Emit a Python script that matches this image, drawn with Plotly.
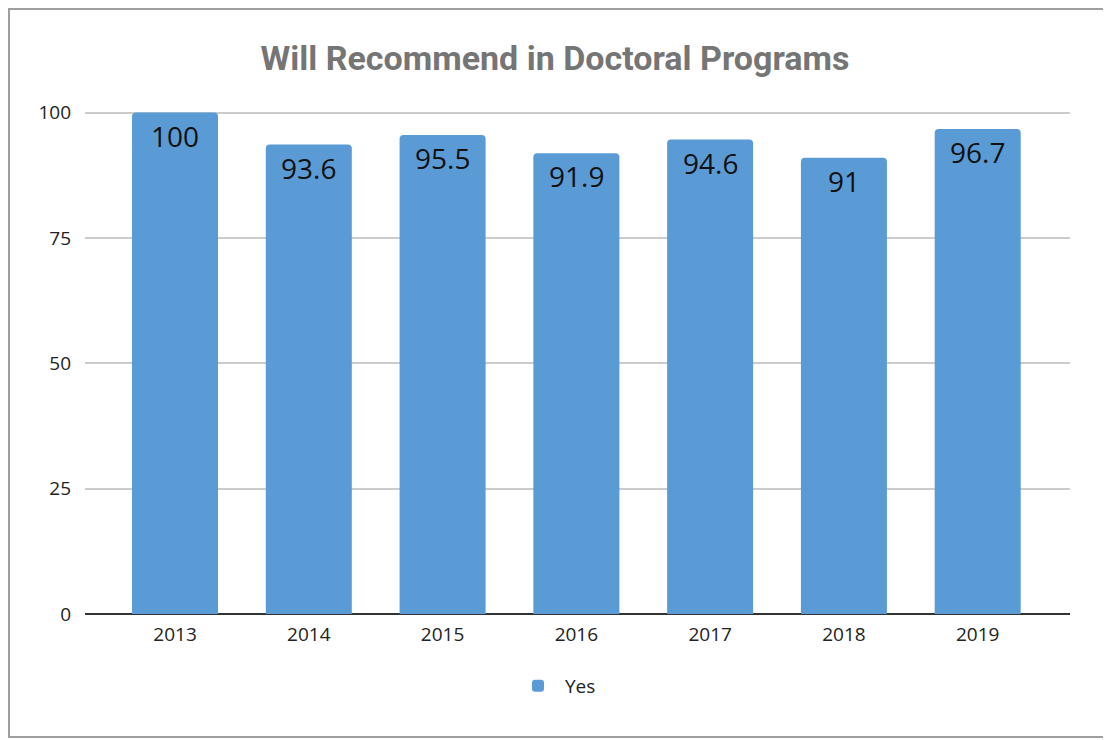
import plotly.graph_objects as go

years = ["2013", "2014", "2015", "2016", "2017", "2018", "2019"]
yes_values = [100, 93.6, 95.5, 91.9, 94.6, 91, 96.7]
value_labels = ["100", "93.6", "95.5", "91.9", "94.6", "91", "96.7"]
y_ticks = [0, 25, 50, 75, 100]

BAR_COLOR = "#5b9bd5"
O = 8  # page offset of the figure (body margin)
W, H = 1111 - O, 740 - O
# plot area in page pixels: x 85..1070, y 111..614
L, T = 85 - O, 111 - O
R = W - (1070 - O)
B = H - (614 - O)
pw, ph = W - L - R, H - T - B

fig = go.Figure()
fig.add_trace(go.Bar(
    x=list(range(len(years))), y=yes_values, name="Yes",
    marker=dict(color=BAR_COLOR, cornerradius=4, line=dict(width=0)),
    width=0.643, hoverinfo="x+y",
))

for i, (v, lab) in enumerate(zip(yes_values, value_labels)):
    fig.add_annotation(x=i, y=v, text=lab, showarrow=False, yanchor="top",
                       yshift=-2, font=dict(family="Open Sans", size=28, color="#111111"))

# outer frame (page px: x 2..1108, y 3..737)
fig.add_shape(type="rect", xref="paper", yref="paper",
              x0=(1 - L) / pw, x1=(1108 - O - L) / pw,
              y0=(T + ph - (737 - O)) / ph, y1=(T + ph - 1) / ph,
              line=dict(color="#9e9e9e", width=2), layer="below")

fig.update_layout(
    width=W, height=H,
    margin=dict(l=L, r=R, t=T, b=B, autoexpand=False),
    paper_bgcolor="white", plot_bgcolor="white",
    title=dict(text="<b>Will Recommend in Doctoral Programs</b>", x=(555 - O) / W, xanchor="center",
               xref="container", y=1 - (58 - O) / H, yanchor="middle",
               font=dict(family="Roboto", size=34, color="#757575")),
    xaxis=dict(range=[-0.673, 6.69], tickmode="array", tickvals=list(range(len(years))),
               ticktext=years, showgrid=False, zeroline=False, showline=False,
               ticks="", ticklabelstandoff=7,
               tickfont=dict(family="Open Sans", size=19, color="#222222")),
    yaxis=dict(range=[0, 100.3], tickmode="array", tickvals=y_ticks,
               ticktext=[str(t) for t in y_ticks],
               showgrid=True, gridcolor="#cccccc", gridwidth=1.5,
               zeroline=True, zerolinecolor="#333333", zerolinewidth=2,
               showline=False, ticks="", ticklabelstandoff=13,
               tickfont=dict(family="Open Sans", size=19, color="#222222")),
    showlegend=True,
    legend=dict(orientation="h", x=(556 - O - L) / pw, xanchor="center",
                y=(T + ph - (686 - O)) / ph, yanchor="middle",
                font=dict(family="Open Sans", size=19, color="#222222"),
                itemwidth=44),
)

fig.write_html("out.html")
